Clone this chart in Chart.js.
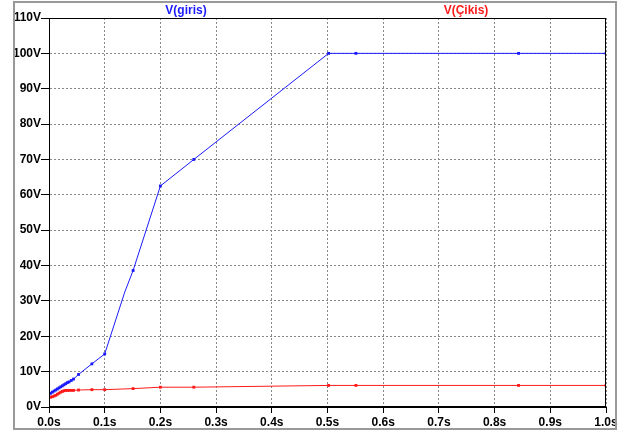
<!DOCTYPE html>
<html>
<head>
<meta charset="utf-8">
<script src="https://cdn.jsdelivr.net/npm/chart.js@4/dist/chart.umd.min.js"></script>
<style>
  html, body { margin: 0; padding: 0; background: #fff; }
  #wrap { position: relative; width: 625px; height: 433px; }
</style>
</head>
<body>
<div id="wrap"><canvas id="c" width="625" height="433"></canvas></div>
<script>
// LTspice-like transient plot: V(giris) and V(Çikis)
const girisT = [0, 0.003, 0.006, 0.009, 0.012, 0.015, 0.018, 0.021, 0.024, 0.027, 0.030, 0.033, 0.036, 0.040, 0.044, 0.053, 0.077, 0.100, 0.136, 0.151, 0.200, 0.260, 0.502, 0.551, 0.843, 1.0];
const girisV = [3.7, 3.9, 4.2, 4.5, 4.8, 5.1, 5.4, 5.7, 6.0, 6.3, 6.6, 6.9, 7.1, 7.5, 7.9, 9.2, 12.2, 15.0, 32.5, 38.6, 62.5, 70.0, 100, 100, 100, 100];

const cikisT = [0, 0.003, 0.006, 0.009, 0.012, 0.015, 0.018, 0.021, 0.024, 0.027, 0.030, 0.033, 0.036, 0.040, 0.044, 0.053, 0.077, 0.100, 0.151, 0.200, 0.260, 0.502, 0.551, 0.843, 1.0];
const cikisV = [2.7, 2.8, 2.9, 3.1, 3.3, 3.6, 3.9, 4.2, 4.4, 4.6, 4.7, 4.7, 4.7, 4.7, 4.7, 4.8, 4.9, 4.9, 5.2, 5.6, 5.6, 6.1, 6.1, 6.1, 6.1];

const traceNames = ["V(giris)", "V(Çikis)"];
const traceColors = ["#1a1aff", "#ff1a1a"];

const FONT = "'Liberation Sans', Arial, sans-serif";

function pts(xs, ys) {
  return xs.map((x, i) => ({ x, y: ys[i] }));
}

// рамка окна + рамка графика + подписи трасс
const frame = {
  id: "frame",
  afterDraw(chart) {
    const { ctx, chartArea: a } = chart;
    ctx.save();
    ctx.strokeStyle = "#000";
    ctx.lineWidth = 1;
    ctx.strokeRect(a.left + 0.5, a.top + 0.5, a.right - a.left - 1, a.bottom - a.top - 1);
    ctx.strokeStyle = "#999";
    ctx.lineWidth = 2;
    ctx.strokeRect(14, 2, 602, 427);
    ctx.font = "bold 12px " + FONT;
    ctx.textAlign = "center";
    ctx.textBaseline = "middle";
    ctx.fillStyle = traceColors[0];
    ctx.fillText(traceNames[0], 186, 11);
    ctx.fillStyle = traceColors[1];
    ctx.fillText(traceNames[1], 466, 11);
    ctx.restore();
  },
};

// излом без маркера на 0.136s
const radius = (c) => (c.datasetIndex === 0 && c.dataIndex === 18 ? 0 : 2);

new Chart(document.getElementById("c"), {
  type: "line",
  data: {
    datasets: [
      { label: traceNames[0], data: pts(girisT, girisV), borderColor: traceColors[0], backgroundColor: traceColors[0],
        borderWidth: 1, pointStyle: "rect", pointRadius: radius, pointBorderWidth: 0, tension: 0 },
      { label: traceNames[1], data: pts(cikisT, cikisV), borderColor: traceColors[1], backgroundColor: traceColors[1],
        borderWidth: 1, pointStyle: "rect", pointRadius: radius, pointBorderWidth: 0, tension: 0 },
    ],
  },
  options: {
    responsive: false,
    animation: false,
    layout: { padding: { left: 0, top: 18, right: 19, bottom: 0 } },
    plugins: { legend: { display: false }, tooltip: { enabled: false } },
    scales: {
      x: {
        type: "linear", min: 0, max: 1,
        ticks: { stepSize: 0.1, color: "#000", padding: 2, font: { family: FONT, size: 12, weight: "bold" },
          maxRotation: 0, callback: (v) => v.toFixed(1) + "s" },
        grid: { color: "#888", tickColor: "#000", tickLength: 6, tickBorderDash: [] },
        border: { color: "#000", width: 1, dash: [2, 2] },
        afterFit: (s) => { s.height = 26; },
      },
      y: {
        min: 0, max: 110,
        ticks: { stepSize: 10, color: "#000", padding: 0, font: { family: FONT, size: 12, weight: "bold" },
          callback: (v) => v + "V" },
        grid: { color: "#888", tickColor: "#000", tickLength: 8, tickBorderDash: [] },
        border: { color: "#000", width: 1, dash: [2, 2] },
        afterFit: (s) => { s.width = 49; },
      },
    },
  },
  plugins: [frame],
});
</script>
</body>
</html>
